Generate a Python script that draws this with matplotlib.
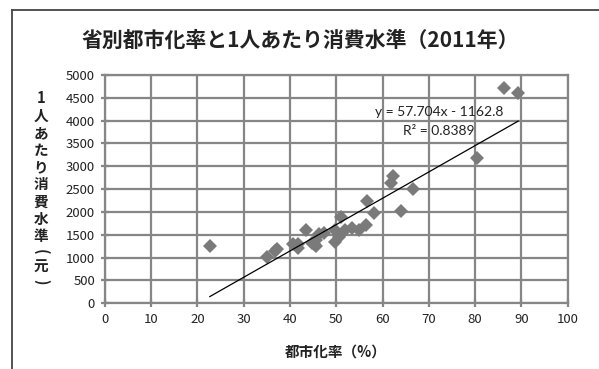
import matplotlib
matplotlib.use("Agg")
import matplotlib.pyplot as plt
from matplotlib.lines import Line2D
import numpy as np

plt.rcParams['font.family'] = ['Noto Sans CJK JP', 'DejaVu Sans']

# Provincial urbanization rate (%) and per-capita consumption (元), 2011
provinces = ["北京", "天津", "河北", "山西", "内蒙古", "遼寧", "吉林", "黒竜江",
             "上海", "江蘇", "浙江", "安徽", "福建", "江西", "山東", "河南",
             "湖北", "湖南", "広東", "広西", "海南", "重慶", "四川", "貴州",
             "雲南", "チベット", "陝西", "甘粛", "青海", "寧夏", "新疆"]
urban_rate = [86.2, 80.5, 45.6, 49.7, 56.6, 64.0, 53.4, 56.5,
              89.3, 61.9, 62.3, 44.8, 58.1, 45.7, 51.0, 40.6,
              51.8, 45.1, 66.5, 41.8, 50.5, 55.0, 41.8, 35.0,
              36.8, 22.7, 47.3, 37.2, 46.2, 49.8, 43.5]
consumption = [4710, 3175, 1250, 1350, 2250, 2020, 1640, 1720,
               4610, 2630, 2780, 1330, 1980, 1380, 1880, 1290,
               1600, 1300, 2500, 1210, 1450, 1600, 1300, 1010,
               1140, 1250, 1530, 1180, 1520, 1600, 1600]

# Linear trend line coefficients as shown in the equation label
slope = 57.704
intercept = -1162.8
r_squared = 0.8389

x_ticks = list(range(0, 101, 10))
y_ticks = list(range(0, 5001, 500))

W, H = 599, 369
fig = plt.figure(figsize=(W / 100, H / 100), dpi=100)
fig.patch.set_facecolor("white")

ax = fig.add_axes([104.7 / W, 1 - 303.3 / H, (567.7 - 104.7) / W, (303.3 - 75) / H])

grid_c = "#868686"
ax.set_xlim(0, 100)
ax.set_ylim(0, 5000)
ax.set_xticks(x_ticks)
ax.set_yticks(y_ticks)
ax.grid(True, color=grid_c, linewidth=1.6)
ax.set_axisbelow(True)
for s in ax.spines.values():
    s.set_color(grid_c)
    s.set_linewidth(1.6)
ax.tick_params(direction="inout", length=6, width=1.6, color=grid_c,
               labelsize=9.5, labelcolor="#222222", pad=4)

ax.plot(urban_rate, consumption, linestyle="none", marker="D",
        markersize=7.5, color="#7a7a7a", markeredgewidth=0, zorder=3)

xs = np.array([min(urban_rate), max(urban_rate)])
ax.plot(xs, slope * xs + intercept, color="black", linewidth=0.9, zorder=4)

eq_font = ['Lato', 'DejaVu Sans']
ax.text(86.2, 4195, f"y = {slope}x - {abs(intercept)}", ha="right", va="center",
        fontsize=10, family=eq_font, color="#222222", zorder=5)
ax.text(72.2, 3775, f"R² = {r_squared}", ha="center", va="center",
        fontsize=10, family=eq_font, color="#222222", zorder=5)

fig.text(300 / W, 1 - 40 / H, "省別都市化率と1人あたり消費水準（2011年）",
         ha="center", va="center", fontsize=15, fontweight="bold", color="#222222")

fig.text(336 / W, 1 - 352 / H, "都市化率（%）", ha="center", va="center",
         fontsize=10.5, fontweight="bold", color="#222222")

# Vertical y-axis title, one glyph per line; brackets turned sideways
ylabel_chars = ["1", "人", "あ", "た", "り", "消", "費", "水", "準", "(", "元", ")"]
ylabel_y = [98, 116, 133, 150, 167, 184, 202, 219, 236, 252, 267, 282]
for ch, py in zip(ylabel_chars, ylabel_y):
    rot = -90 if ch in "()" else 0
    fig.text(41 / W, 1 - py / H, ch, ha="center", va="center", rotation=rot,
             fontsize=10.5, fontweight="bold", color="#222222")

# Outer frame (left and top edges)
frame_c = "#444444"
fig.add_artist(Line2D([12 / W, 12 / W], [0, 1 - 10 / H], color=frame_c, linewidth=1.3))
fig.add_artist(Line2D([12 / W, 1], [1 - 10 / H, 1 - 10 / H], color=frame_c, linewidth=1.3))

fig.savefig("out.png", dpi=100)
